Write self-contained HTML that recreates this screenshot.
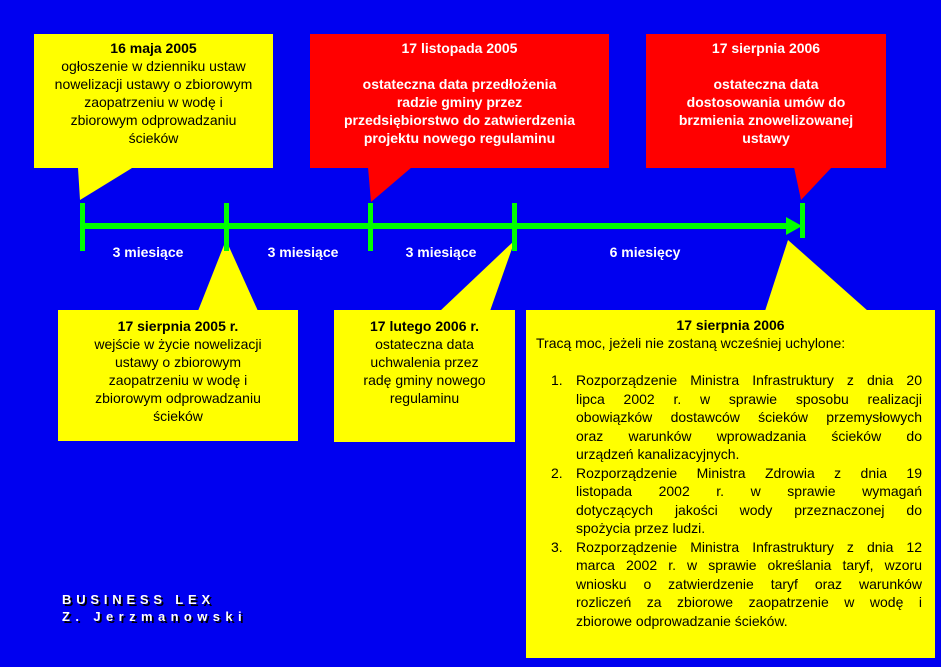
<!DOCTYPE html>
<html><head><meta charset="utf-8"><style>
body{margin:0;width:941px;height:667px;background:#0000F0;position:relative;overflow:hidden;font-family:"Liberation Sans",Arial,sans-serif}
.b{position:absolute;text-align:center;font-size:14px;line-height:18px;color:#000}
.w{color:#fff;font-weight:bold}
.lab{position:absolute;color:#fff;font-weight:bold;font-size:14px;top:244px;transform:translateX(-50%)}
.j{text-align:justify;text-align-last:justify;white-space:nowrap;height:18.5px;line-height:18.5px}
.l{text-align:left;height:18.5px;line-height:18.5px;white-space:nowrap}
.n{position:absolute;left:-25px}
</style></head><body>
<svg width="941" height="667" style="position:absolute;left:0;top:0">
<g fill="#FFFF00">
<rect x="34" y="34" width="239" height="134"/><polygon points="78,168 132,168 80,200"/>
<rect x="58" y="310" width="240" height="131"/><polygon points="198,311 258,311 226,240"/>
<rect x="334" y="310" width="181" height="132"/><polygon points="440,311 490,311 515,240"/>
<rect x="526" y="310" width="409" height="348"/><polygon points="765,311 868,311 788,240"/>
</g>
<g fill="#FF0000">
<rect x="310" y="34" width="299" height="134"/><polygon points="368,167 412,167 371,202"/>
<rect x="646" y="34" width="240" height="134"/><polygon points="794,167 832,167 801,200"/>
</g>
<g fill="#00FF00">
<rect x="82" y="223" width="708" height="6"/>
<polygon points="786,217 802,226 786,235"/>
<rect x="80" y="203" width="5" height="48"/>
<rect x="224" y="203" width="5" height="48"/>
<rect x="368" y="203" width="5" height="48"/>
<rect x="512" y="203" width="5" height="48"/>
<rect x="800" y="203" width="5" height="35"/>
</g>
</svg>
<div class="b" style="left:34px;top:39px;width:239px"><b>16 maja 2005</b><br>ogłoszenie w dzienniku ustaw<br>nowelizacji ustawy o zbiorowym<br>zaopatrzeniu w wodę i<br>zbiorowym odprowadzaniu<br>ścieków</div>
<div class="b w" style="left:310px;top:39px;width:299px">17 listopada 2005<br><br>ostateczna data przedłożenia<br>radzie gminy przez<br>przedsiębiorstwo do zatwierdzenia<br>projektu nowego regulaminu</div>
<div class="b w" style="left:646px;top:39px;width:240px">17 sierpnia 2006<br><br>ostateczna data<br>dostosowania umów do<br>brzmienia znowelizowanej<br>ustawy</div>
<div class="lab" style="left:148px">3 miesiące</div>
<div class="lab" style="left:303px">3 miesiące</div>
<div class="lab" style="left:441px">3 miesiące</div>
<div class="lab" style="left:645px">6 miesięcy</div>
<div class="b" style="left:58px;top:317px;width:240px"><b>17 sierpnia 2005 r.</b><br>wejście w życie nowelizacji<br>ustawy o zbiorowym<br>zaopatrzeniu w wodę i<br>zbiorowym odprowadzaniu<br>ścieków</div>
<div class="b" style="left:334px;top:317px;width:181px"><b>17 lutego 2006 r.</b><br>ostateczna data<br>uchwalenia przez<br>radę gminy nowego<br>regulaminu</div>
<div class="b" style="left:526px;top:316px;width:409px;text-align:center"><b>17 sierpnia 2006</b></div>
<div class="b" style="left:536px;top:334px;text-align:left">Tracą moc, jeżeli nie zostaną wcześniej uchylone:</div>
<div class="b" style="left:576px;top:371px;width:346px;text-align:left">
<div class="j"><span class="n">1.</span>Rozporządzenie Ministra Infrastruktury z dnia 20</div>
<div class="j">lipca 2002 r. w sprawie sposobu realizacji</div>
<div class="j">obowiązków dostawców ścieków przemysłowych</div>
<div class="j">oraz warunków wprowadzania ścieków do</div>
<div class="l">urządzeń kanalizacyjnych.</div>
<div class="j"><span class="n">2.</span>Rozporządzenie Ministra Zdrowia z dnia 19</div>
<div class="j">listopada 2002 r. w sprawie wymagań</div>
<div class="j">dotyczących jakości wody przeznaczonej do</div>
<div class="l">spożycia przez ludzi.</div>
<div class="j"><span class="n">3.</span>Rozporządzenie Ministra Infrastruktury z dnia 12</div>
<div class="j">marca 2002 r. w sprawie określania taryf, wzoru</div>
<div class="j">wniosku o zatwierdzenie taryf oraz warunków</div>
<div class="j">rozliczeń za zbiorowe zaopatrzenie w wodę i</div>
<div class="l">zbiorowe odprowadzanie ścieków.</div>
</div>
<div style="position:absolute;left:62px;top:591px;color:#fff;font-weight:bold;font-size:13px;line-height:17px;text-shadow:2px 2px 0 #000;white-space:nowrap"><div style="letter-spacing:4.8px">BUSINESS LEX</div><div style="letter-spacing:5.4px">Z. Jerzmanowski</div></div>
</body></html>
